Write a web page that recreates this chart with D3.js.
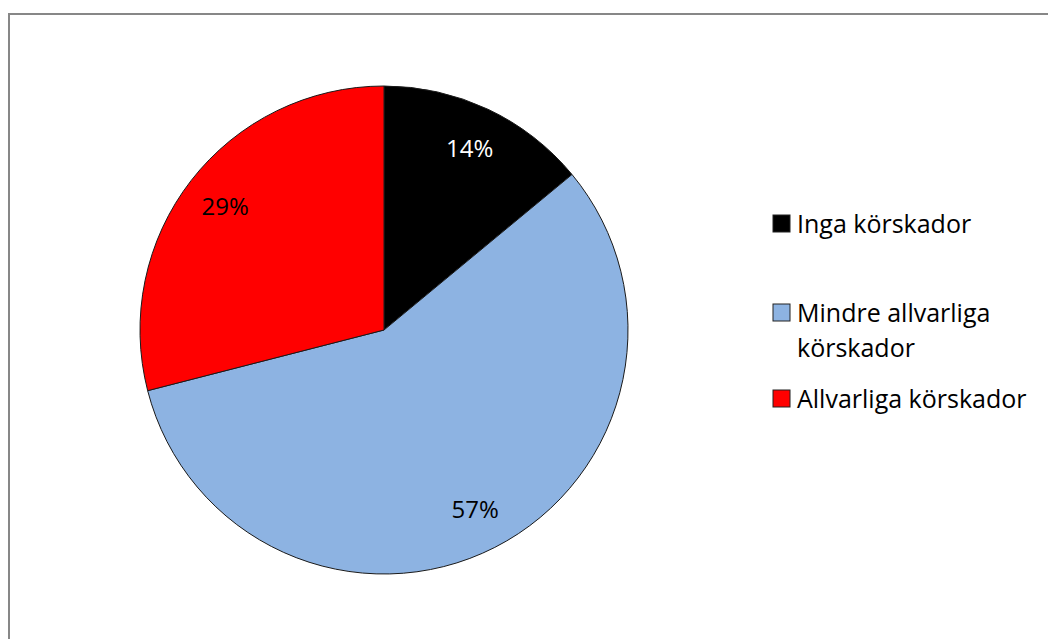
<!DOCTYPE html>
<html>
<head>
<meta charset="utf-8">
<script src="https://cdn.jsdelivr.net/npm/d3@7"></script>
<style>
  body { margin: 0; background: #fff; }
  svg text { font-family: "Open Sans", Lato, sans-serif; }
</style>
</head>
<body>
<script>
// chart data
var categories = ["Inga körskador", "Mindre allvarliga körskador", "Allvarliga körskador"];
var values = [14, 57, 29];
var legendLines = [["Inga körskador"], ["Mindre allvarliga", "körskador"], ["Allvarliga körskador"]];
var colors = ["#000000", "#8db3e2", "#ff0000"];
var labelColors = ["#ffffff", "#000000", "#000000"];

var width = 1048,
    height = 639;

var svg = d3.select("body").append("svg")
    .attr("width", width)
    .attr("height", height);

// chart frame (runs off the right and bottom of the picture)
svg.append("rect")
    .attr("x", 9)
    .attr("y", 14)
    .attr("width", 1200)
    .attr("height", 800)
    .attr("fill", "none")
    .attr("stroke", "#878787")
    .attr("stroke-width", 2);

var cx = 384, cy = 330, radius = 244;

var pie = d3.pie().sort(null).value(function(d) { return d; });
var arc = d3.arc().innerRadius(0).outerRadius(radius);
var labelArc = d3.arc().innerRadius(201).outerRadius(201);

var g = svg.append("g")
    .attr("transform", "translate(" + cx + "," + cy + ")");

var slices = g.selectAll("g.slice")
    .data(pie(values))
    .enter().append("g")
    .attr("class", "slice");

slices.append("path")
    .attr("d", arc)
    .attr("fill", function(d, i) { return colors[i]; })
    .attr("stroke", "#1a1a1a")
    .attr("stroke-width", 1);

slices.append("text")
    .attr("transform", function(d) { return "translate(" + labelArc.centroid(d) + ")"; })
    .attr("text-anchor", "middle")
    .attr("dy", "0.36em")
    .attr("font-size", 24)
    .attr("fill", function(d, i) { return labelColors[i]; })
    .text(function(d) { return d.value + "%"; });

// legend
var legendY = [233, 322, 408];
var legend = svg.selectAll("g.legend")
    .data(categories)
    .enter().append("g")
    .attr("class", "legend")
    .attr("transform", function(d, i) { return "translate(773," + legendY[i] + ")"; });

legend.append("rect")
    .attr("x", 0)
    .attr("y", -18)
    .attr("width", 17)
    .attr("height", 17)
    .attr("fill", function(d, i) { return colors[i]; })
    .attr("stroke", "#222")
    .attr("stroke-width", 1);

legend.each(function(d, i) {
  var t = d3.select(this).append("text")
      .attr("x", 24)
      .attr("y", 0)
      .attr("font-size", 25)
      .attr("fill", "#000");
  legendLines[i].forEach(function(line, j) {
    t.append("tspan")
        .attr("x", 24)
        .attr("dy", j === 0 ? 0 : 35)
        .text(line);
  });
});
</script>
</body>
</html>
